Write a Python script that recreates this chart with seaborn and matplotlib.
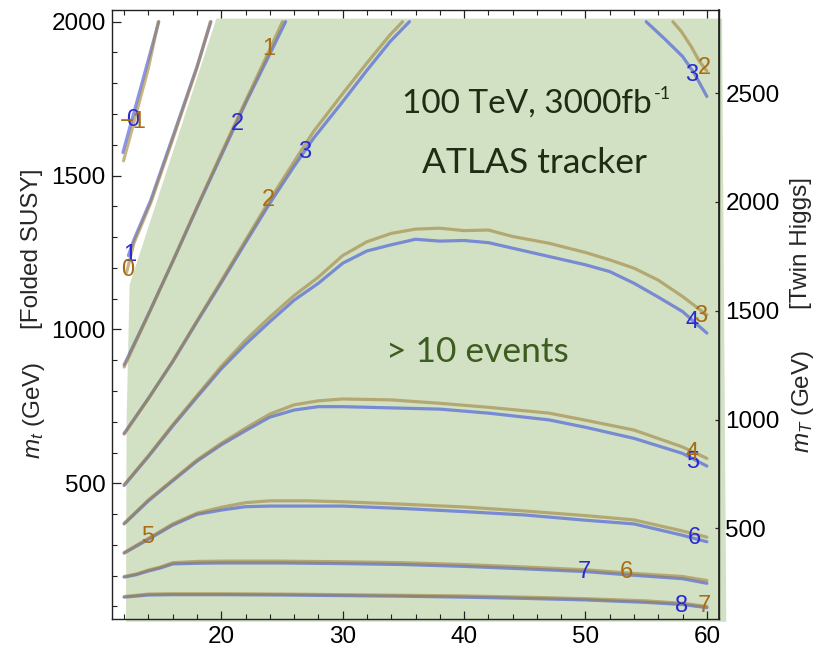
import numpy as np
import matplotlib
matplotlib.use("Agg")
import matplotlib.pyplot as plt
import seaborn as sns
from matplotlib.ticker import MultipleLocator

# ---------------- data ----------------
# shaded region "> 10 events"
region_x = [12.15, 12.2, 12.45, 19.6, 61.25, 61.6]
region_y = [50, 700, 1145, 2010, 2010, 50]

# contour set 1 (blue)
A_b_x = [11.9, 13.0, 14.0, 14.85];            A_b_y = [1575, 1733, 1877, 2000]
B_b_x = [12.35, 12.8, 14.2, 16, 18, 19.15];   B_b_y = [1240, 1291, 1421, 1625, 1854, 2000]
C_b_x = [12, 14, 16, 18, 20, 22, 24, 25.3];   C_b_y = [885, 1050, 1220, 1395, 1565, 1735, 1895, 2000]
D_b_x = [12, 14, 16, 18, 20, 22, 24, 26, 27.6, 30, 32, 33.9, 35.5]
D_b_y = [662, 776, 895, 1025, 1152, 1282, 1410, 1530, 1621, 1740, 1842, 1935, 2000]
E_b_x = [12, 14, 16, 18, 20, 22, 24, 26, 28, 30, 32, 34, 36, 38, 40, 42, 44, 47, 50, 52, 54, 56, 58, 60]
E_b_y = [493, 587, 686, 780, 872, 952, 1025, 1095, 1150, 1215, 1255, 1275, 1293, 1287, 1289, 1282, 1264, 1237, 1210, 1188, 1150, 1105, 1058, 988]
F_b_x = [12, 14, 16, 18, 20, 22, 24, 26, 28, 30, 34, 38, 42, 47, 50, 54, 58, 60]
F_b_y = [368, 443, 508, 572, 625, 671, 715, 738, 749, 749, 745, 741, 728, 706, 682, 646, 597, 556]
G_b_x = [12, 14, 16, 18, 20, 22, 24, 27, 30, 35, 40, 45, 50, 54, 58, 60]
G_b_y = [273, 318, 364, 399, 413, 424, 426, 426, 426, 418, 408, 397, 380, 368, 331, 310]
H_b_x = [12, 13, 14, 15, 16, 18, 20, 25, 30, 35, 40, 45, 50, 54, 58, 60]
H_b_y = [195, 203, 215, 225, 238, 240, 241, 241, 239, 236, 230, 222, 213, 201, 190, 175]
I_b_x = [12, 14, 16, 20, 25, 30, 35, 40, 45, 50, 55, 58, 60]
I_b_y = [130, 137, 138, 138, 137, 135, 133, 130, 126, 121, 113, 106, 96]
J_b_x = [55.0, 56.5, 58.0, 59.0, 60.0];        J_b_y = [2000, 1945, 1887, 1830, 1757]

# contour set 2 (tan)
A_t_x = [11.95, 13.0, 14.0, 14.82];            A_t_y = [1548, 1702, 1850, 2000]
B_t_x = [12.2, 12.8, 14.2, 16, 18, 19.1];      B_t_y = [1185, 1280, 1412, 1618, 1850, 2000]
C_t_x = [12, 14, 16, 18, 20, 22, 24, 25.05];  C_t_y = [878, 1048, 1222, 1398, 1572, 1742, 1910, 2000]
D_t_x = [12, 14, 16, 18, 20, 22, 24, 26, 27.6, 30, 32, 33.9, 34.94]
D_t_y = [660, 775, 897, 1028, 1158, 1290, 1421, 1545, 1643, 1766, 1866, 1957, 2000]
E_t_x = [12, 14, 16, 17.7, 20, 22, 24, 26, 28, 30, 32, 34, 36, 38, 40, 42, 44, 47, 50, 52, 54, 56, 58, 60]
E_t_y = [495, 590, 690, 771, 880, 965, 1040, 1110, 1170, 1240, 1285, 1312, 1326, 1329, 1321, 1323, 1302, 1280, 1250, 1226, 1199, 1160, 1107, 1047]
F_t_x = [12, 14, 16, 18, 20, 22, 24, 26, 28, 30, 34, 38, 42, 47, 50, 54, 58, 60]
F_t_y = [370, 446, 511, 576, 630, 679, 725, 755, 768, 774, 771, 760, 747, 728, 705, 673, 618, 581]
G_t_x = [12, 14, 16, 18, 20, 22, 24, 27, 30, 35, 40, 45, 50, 54, 58, 60]
G_t_y = [275, 321, 368, 403, 422, 437, 443, 443, 440, 432, 423, 410, 395, 381, 345, 325]
H_t_x = [12, 13, 14, 15, 16, 18, 20, 25, 30, 35, 40, 45, 50, 54, 58, 60]
H_t_y = [197, 205, 218, 228, 242, 246, 247, 247, 245, 242, 236, 228, 219, 207, 197, 184]
I_t_x = [12, 14, 16, 20, 25, 30, 35, 40, 45, 50, 55, 58, 60]
I_t_y = [132, 140, 141, 141, 140, 138, 136, 134, 130, 125, 118, 110, 100]
J_t_x = [57.2, 57.9, 58.7, 59.4, 60.0];        J_t_y = [2000, 1968, 1920, 1870, 1840]

blue_lines = [(A_b_x, A_b_y), (B_b_x, B_b_y), (C_b_x, C_b_y), (D_b_x, D_b_y), (E_b_x, E_b_y),
              (F_b_x, F_b_y), (G_b_x, G_b_y), (H_b_x, H_b_y), (I_b_x, I_b_y), (J_b_x, J_b_y)]
tan_lines = [(A_t_x, A_t_y), (B_t_x, B_t_y), (C_t_x, C_t_y), (D_t_x, D_t_y), (E_t_x, E_t_y),
             (F_t_x, F_t_y), (G_t_x, G_t_y), (H_t_x, H_t_y), (I_t_x, I_t_y), (J_t_x, J_t_y)]

# contour labels
blue_lab_text = ["0", "1", "2", "3", "4", "5", "6", "7", "8", "3"]
blue_lab_x = [12.7, 12.45, 21.3, 26.85, 58.75, 58.8, 59.0, 49.9, 57.9, 58.75]
blue_lab_y = [1679, 1242, 1666, 1577, 1024, 570, 323, 212, 101, 1827]
tan_lab_text = ["\u22121", "0", "1", "2", "3", "4", "5", "6", "7", "2"]
tan_lab_x = [12.73, 12.27, 23.95, 23.9, 59.45, 58.8, 13.92, 53.4, 59.8, 59.8]
tan_lab_y = [1675, 1193, 1912, 1421, 1045, 598, 325, 211, 101, 1850]

x_ticks = [20, 30, 40, 50, 60]
y_ticks = [500, 1000, 1500, 2000]
y2_ticks = [500, 1000, 1500, 2000, 2500]

# ---------------- style ----------------
sns.set_theme(style="ticks")
plt.rcParams["font.family"] = ["Liberation Sans", "DejaVu Sans"]
plt.rcParams["mathtext.fontset"] = "custom"
plt.rcParams["mathtext.rm"] = "Liberation Sans"
plt.rcParams["mathtext.it"] = "Liberation Sans:italic"

W, H = 835, 649
fig = plt.figure(figsize=(W / 100, H / 100), dpi=100)
L, R, T, B = 112, 719, 10, 619
ax = fig.add_axes([L / W, 1 - B / H, (R - L) / W, (B - T) / H])

ax.fill(region_x, region_y, color="#d2e1c3", lw=0, zorder=0, clip_on=False)

blue_c = "#3c50dc"
tan_c = "#a0823c"
for (xx, yy) in blue_lines:
    sns.lineplot(x=xx, y=yy, ax=ax, sort=False, estimator=None, color=blue_c,
                 alpha=0.6, lw=2.3, legend=False, zorder=2)
for (xx, yy) in tan_lines:
    sns.lineplot(x=xx, y=yy, ax=ax, sort=False, estimator=None, color=tan_c,
                 alpha=0.6, lw=2.3, legend=False, zorder=3)

for s, xx, yy in zip(blue_lab_text, blue_lab_x, blue_lab_y):
    ax.text(xx, yy, s, color="#2a2ad2", fontsize=17, ha="center", va="center", zorder=5)
for s, xx, yy in zip(tan_lab_text, tan_lab_x, tan_lab_y):
    ax.text(xx, yy, s, color="#a86c14", fontsize=17, ha="center", va="center", zorder=5)

ax.text(45.2, 1704, "100 TeV, 3000fb", family="Lato", fontsize=24,
        color="#1e2d14", ha="center", va="baseline", zorder=6)
ax.text(55.6, 1748, "-1", family="Lato", fontsize=13,
        color="#1e2d14", ha="left", va="baseline", zorder=6)
ax.text(45.8, 1508, "ATLAS tracker", family="Lato", fontsize=25.5,
        color="#1e2d14", ha="center", va="baseline", zorder=6)
ax.text(41.1, 895, "> 10 events", family="Lato", fontsize=25.5,
        color="#3d5c1f", ha="center", va="baseline", zorder=6)

ax.set_xlim(11, 61)
ax.set_ylim(59, 2038)
ax.set_xticks(x_ticks)
ax.set_yticks(y_ticks)
ax.xaxis.set_minor_locator(MultipleLocator(2))
ax.yaxis.set_minor_locator(MultipleLocator(100))
ax.tick_params(axis="x", which="major", direction="in", length=5.5, width=0.9, top=True,
               labelsize=17.5, pad=5, colors="#222222", labelcolor="black")
ax.tick_params(axis="x", which="minor", direction="in", length=3.5, width=0.8, top=True, colors="#222222")
ax.tick_params(axis="y", which="major", direction="in", length=6.5, width=0.9, right=False,
               labelsize=17.5, pad=4.5, colors="#222222", labelcolor="black")
ax.tick_params(axis="y", which="minor", direction="in", length=3.3, width=0.8, right=False, colors="#222222")
for sp in ax.spines.values():
    sp.set_color("#222222")
    sp.set_linewidth(1.0)
ax.set_xlabel("")
ax.set_ylabel("")

sec = ax.secondary_yaxis("right", functions=(lambda v: v * np.sqrt(2), lambda v: v / np.sqrt(2)))
sec.set_yticks(y2_ticks)
sec.tick_params(axis="y", which="major", direction="in", length=3, width=0.9,
                labelsize=17.5, pad=4.5, colors="#222222", labelcolor="black")
sec.tick_params(axis="y", which="minor", length=0)
sec.spines["right"].set_color("#222222")

fig.text(32 / W, 1 - 249 / H, "[Folded SUSY]", rotation=90, ha="center", va="center", fontsize=17.5)
fig.text(34 / W, 1 - 410 / H, "$m_t$ (GeV)", rotation=90, ha="center", va="center", fontsize=17.5)
fig.text(801 / W, 1 - 243 / H, "[Twin Higgs]", rotation=90, ha="center", va="center", fontsize=17.5)
fig.text(803 / W, 1 - 401 / H, "$m_T$ (GeV)", rotation=90, ha="center", va="center", fontsize=17.5)

fig.savefig("out.png", dpi=100, facecolor="white")
